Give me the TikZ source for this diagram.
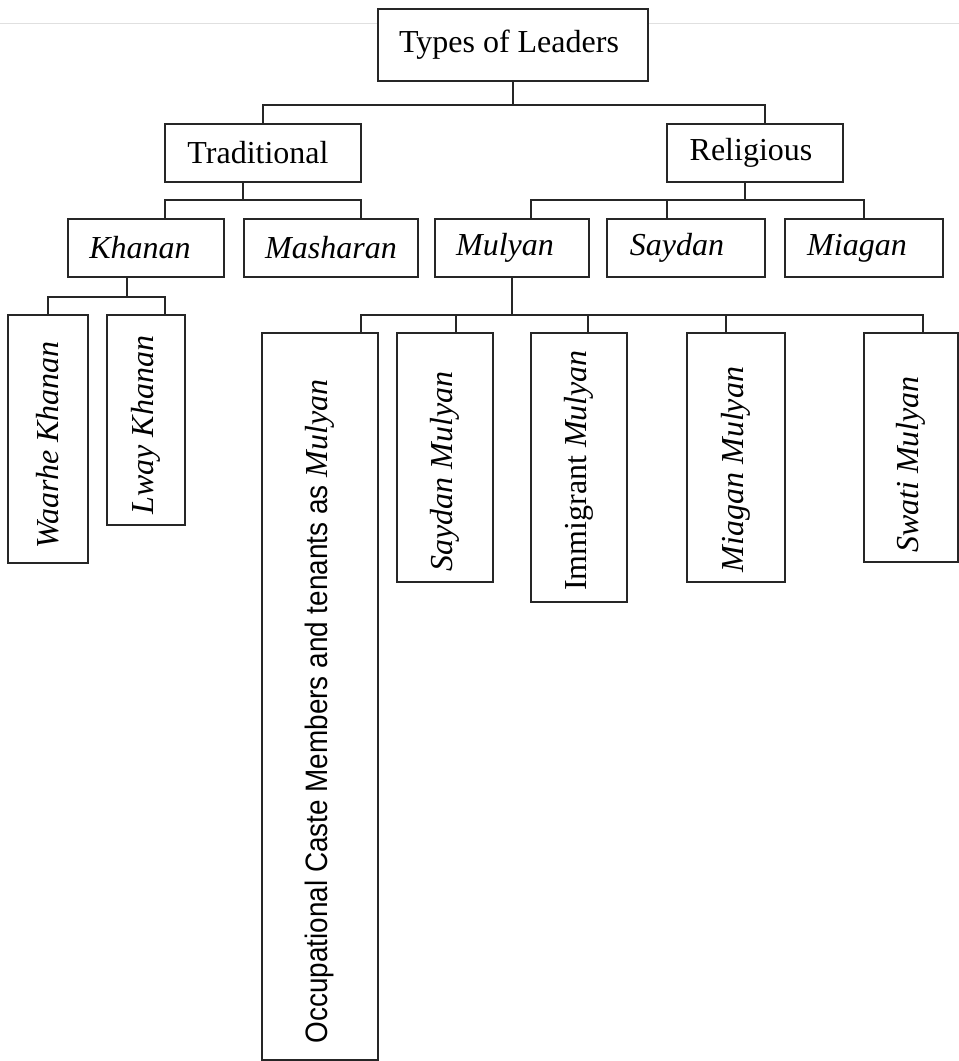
\documentclass[tikz,border=0pt]{standalone}
\usepackage{fontspec}
\setmainfont{Liberation Serif}
\setsansfont{Liberation Sans}
\usepackage{graphicx}

\begin{document}
\begin{tikzpicture}[x=1pt,y=1pt,
  box/.style={draw=black!85, line width=1.8pt, fill=white, inner sep=0pt,
    font=\fontsize{32}{38}\selectfont},
  link/.style={draw=black!85, line width=1.8pt},
]
\useasboundingbox (0,0) rectangle (959,-1061);
\fill[white] (0,0) rectangle (959,-1061);
% faint page edge
\draw[black!12, line width=1pt] (0,-23) -- (959,-23);

% root
\node[box, minimum width=270, minimum height=72] (top) at (513,-45)
  {Types of Leaders\hspace*{8pt}};

% first level
\node[box, minimum width=196, minimum height=58] (trad) at (263,-153)
  {Traditional\hspace*{10pt}};
\node[box, minimum width=176, minimum height=58] (rel) at (755,-153)
  {Religious\hspace*{8pt}};

% second level
\node[box, minimum width=156, minimum height=58] (khan) at (146,-248)
  {\textit{Khanan}\hspace*{12pt}};
\node[box, minimum width=174, minimum height=58] (mash) at (331,-248)
  {\textit{Masharan}};
\node[box, minimum width=154, minimum height=58] (muly) at (512,-248)
  {\textit{Mulyan}\hspace*{14pt}};
\node[box, minimum width=158, minimum height=58] (sayd) at (686,-248)
  {\textit{Saydan}\hspace*{18pt}};
\node[box, minimum width=158, minimum height=58] (miag) at (864,-248)
  {\textit{Miagan}\hspace*{14pt}};

% kinds of Khanan
\node[box, minimum width=80, minimum height=248] (waar) at (48,-439)
  {\rotatebox{90}{\textit{Waarhe Khanan}\hspace*{12pt}}};
\node[box, minimum width=78, minimum height=210] (lway) at (146,-420)
  {\rotatebox{90}{\textit{Lway Khanan}\hspace*{10pt}}};

% kinds of Mulyan
\node[box, minimum width=116, minimum height=727] (occ) at (320,-696.5)
  {\rotatebox{90}{\scalebox{0.9}[1]{\fontsize{31}{37}\selectfont\sffamily Occupational Caste Members and tenants as} \textit{Mulyan}\hspace*{30pt}}};
\node[box, minimum width=96, minimum height=249] (saydm) at (445,-457.5)
  {\rotatebox{90}{\textit{Saydan Mulyan}\hspace*{28pt}}};
\node[box, minimum width=96, minimum height=269] (immi) at (579,-467.5)
  {\rotatebox{90}{Immigrant \textit{Mulyan}\hspace*{6pt}}};
\node[box, minimum width=98, minimum height=249] (miagm) at (736,-457.5)
  {\rotatebox{90}{\textit{Miagan Mulyan}\hspace*{24pt}}};
\node[box, minimum width=94, minimum height=229] (swat) at (911,-447.5)
  {\rotatebox{90}{\textit{Swati Mulyan}\hspace*{34pt}}};

% bus heights
\coordinate (b1) at (0,-105);
\coordinate (b2) at (0,-200);
\coordinate (b3) at (0,-297);
\coordinate (b4) at (0,-315);

% root to first level
\draw[link] (top.south) -- (top.south |- b1);
\draw[link] (trad.north) |- ([xshift=10pt]rel.north |- b1) -- ([xshift=10pt]rel.north);

% Traditional
\draw[link] ([xshift=-20pt]trad.south) -- ([xshift=-20pt]trad.south |- b2);
\draw[link] ([xshift=19pt]khan.north) |- ([xshift=30pt]mash.north |- b2) -- ([xshift=30pt]mash.north);

% Religious
\draw[link] ([xshift=-10pt]rel.south) -- ([xshift=-10pt]rel.south |- b2);
\draw[link] ([xshift=19pt]muly.north) |- (miag.north |- b2) -- (miag.north);
\draw[link] ([xshift=-19pt]sayd.north) -- ([xshift=-19pt]sayd.north |- b2);

% Khanan
\draw[link] ([xshift=-19pt]khan.south) -- ([xshift=-19pt]khan.south |- b3);
\draw[link] (waar.north) |- ([xshift=19pt]lway.north |- b3) -- ([xshift=19pt]lway.north);

% Mulyan
\draw[link] (muly.south) -- (muly.south |- b4);
\draw[link] ([xshift=41pt]occ.north) |- ([xshift=12pt]swat.north |- b4) -- ([xshift=12pt]swat.north);
\draw[link] ([xshift=11pt]saydm.north) -- ([xshift=11pt]saydm.north |- b4);
\draw[link] ([xshift=9pt]immi.north) -- ([xshift=9pt]immi.north |- b4);
\draw[link] ([xshift=-10pt]miagm.north) -- ([xshift=-10pt]miagm.north |- b4);
\end{tikzpicture}
\end{document}
